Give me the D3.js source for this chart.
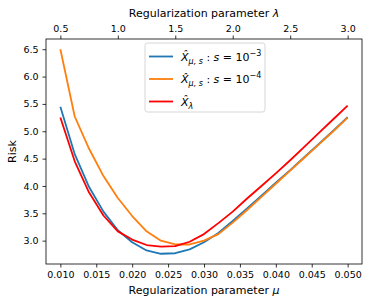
<!DOCTYPE html>
<html>
<head>
<meta charset="utf-8">
<script src="https://cdn.jsdelivr.net/npm/d3@7"></script>
<style>
  body { margin: 0; background: #fff; }
  text { font-family: "DejaVu Sans", sans-serif; fill: #000; }
</style>
</head>
<body>
<div id="chart"></div>
<script>
// Regularization parameter mu (bottom axis)
const mu = [0.010, 0.012, 0.014, 0.016, 0.018, 0.020, 0.022, 0.024, 0.026, 0.028, 0.030,
            0.032, 0.034, 0.036, 0.038, 0.040, 0.042, 0.044, 0.046, 0.048, 0.050];

// Risk for each estimator
const riskS3 = [5.45, 4.58, 3.98, 3.53, 3.19, 2.97, 2.82, 2.76, 2.77, 2.84, 2.97,
                3.14, 3.36, 3.59, 3.82, 4.06, 4.29, 4.53, 4.77, 5.01, 5.26];
const riskS4 = [6.50, 5.27, 4.68, 4.18, 3.78, 3.45, 3.17, 3.00, 2.93, 2.93, 3.00,
                3.12, 3.33, 3.56, 3.80, 4.04, 4.28, 4.52, 4.76, 5.00, 5.25];
const riskLambda = [5.25, 4.45, 3.88, 3.46, 3.17, 3.02, 2.92, 2.89, 2.90, 2.98, 3.12,
                    3.32, 3.53, 3.77, 4.00, 4.23, 4.47, 4.72, 4.97, 5.22, 5.47];

// Tick values
const muTicks = [0.010, 0.015, 0.020, 0.025, 0.030, 0.035, 0.040, 0.045, 0.050];
const lambdaTicks = [0.5, 1.0, 1.5, 2.0, 2.5, 3.0];
const riskTicks = [3.0, 3.5, 4.0, 4.5, 5.0, 5.5, 6.0, 6.5];

// Series table for drawing (blue first, red on top)
const series = [
    { key: "s3", values: riskS3, color: "#1f77b4", sup: "\u22123" },
    { key: "s4", values: riskS4, color: "#ff7f0e", sup: "\u22124" },
    { key: "lambda", values: riskLambda, color: "#ff0000" }
];

const width = 374, height = 306;
const margin = { top: 39, right: 12, bottom: 42, left: 46 };

const svg = d3.select("#chart").append("svg")
    .attr("width", width)
    .attr("height", height);

// Scales with matplotlib-like 5% padding
const muExt = d3.extent(mu);
const muPad = (muExt[1] - muExt[0]) * 0.05;
const x = d3.scaleLinear()
    .domain([muExt[0] - muPad, muExt[1] + muPad])
    .range([margin.left, width - margin.right]);

const allRisk = riskS3.concat(riskS4, riskLambda);
const rExt = d3.extent(allRisk);
const rPad = (rExt[1] - rExt[0]) * 0.05;
const y = d3.scaleLinear()
    .domain([rExt[0] - rPad, rExt[1] + rPad])
    .range([height - margin.bottom, margin.top]);

// lambda axis shares the pixel range: 0.5 <-> 0.010, 3.0 <-> 0.050
const lambdaOf = d3.scaleLinear().domain([0.010, 0.050]).range([0.5, 3.0]);
const xTop = d3.scaleLinear()
    .domain(x.domain().map(lambdaOf))
    .range(x.range());

// Axes
const styleAxis = g => {
    g.select(".domain").remove();
    g.selectAll(".tick line").attr("stroke", "#000").attr("stroke-width", 0.8);
    g.selectAll(".tick text").style("font-size", "9.5px").style("font-family", "DejaVu Sans");
};

svg.append("g")
    .attr("transform", `translate(0,${height - margin.bottom})`)
    .call(d3.axisBottom(x).tickValues(muTicks).tickFormat(d3.format(".3f")).tickSizeOuter(0).tickSize(3.5).tickPadding(4))
    .call(styleAxis);

svg.append("g")
    .attr("transform", `translate(0,${margin.top})`)
    .call(d3.axisTop(xTop).tickValues(lambdaTicks).tickFormat(d3.format(".1f")).tickSizeOuter(0).tickSize(3.5).tickPadding(4))
    .call(styleAxis);

svg.append("g")
    .attr("transform", `translate(${margin.left},0)`)
    .call(d3.axisLeft(y).tickValues(riskTicks).tickFormat(d3.format(".1f")).tickSizeOuter(0).tickSize(3.5).tickPadding(4))
    .call(styleAxis);

// Lines
const line = d3.line()
    .x((d, i) => x(mu[i]))
    .y(d => y(d));

svg.append("g")
    .selectAll("path")
    .data(series)
    .join("path")
    .attr("d", d => line(d.values))
    .attr("fill", "none")
    .attr("stroke", d => d.color)
    .attr("stroke-width", 1.8)
    .attr("stroke-linejoin", "round");

// Frame
svg.append("rect")
    .attr("x", margin.left)
    .attr("y", margin.top)
    .attr("width", width - margin.left - margin.right)
    .attr("height", height - margin.top - margin.bottom)
    .attr("fill", "none")
    .attr("stroke", "#000")
    .attr("stroke-width", 0.8);

// Axis labels
svg.append("text")
    .attr("x", (margin.left + width - margin.right) / 2)
    .attr("y", 294)
    .attr("text-anchor", "middle")
    .style("font-size", "11px")
    .text("Regularization parameter ")
    .append("tspan").style("font-style", "italic").text("\u03bc");

svg.append("text")
    .attr("x", (margin.left + width - margin.right) / 2)
    .attr("y", 17)
    .attr("text-anchor", "middle")
    .style("font-size", "11px")
    .text("Regularization parameter ")
    .append("tspan").style("font-style", "italic").text("\u03bb");

svg.append("text")
    .attr("transform", `translate(16,${(margin.top + height - margin.bottom) / 2}) rotate(-90)`)
    .attr("text-anchor", "middle")
    .style("font-size", "11px")
    .text("Risk");

// Legend
const legend = svg.append("g").attr("transform", "translate(145,43)");
legend.append("rect")
    .attr("width", 120)
    .attr("height", 69)
    .attr("rx", 2.5)
    .attr("fill", "#fff")
    .attr("fill-opacity", 0.8)
    .attr("stroke", "#cccccc")
    .attr("stroke-width", 0.8);

series.forEach((s, i) => {
    const row = legend.append("g").attr("transform", `translate(0,${13.5 + i * 22.5})`);
    row.append("line")
        .attr("x1", 4).attr("x2", 28)
        .attr("stroke", s.color)
        .attr("stroke-width", 1.8);
    const t = row.append("text")
        .attr("x", 36)
        .attr("y", 4)
        .style("font-size", "11px");
    t.append("tspan").style("font-style", "italic").text("X\u0302");
    if (s.sup) {
        t.append("tspan").attr("dy", 3).style("font-size", "8px").style("font-style", "italic").text("\u03bc, s");
        t.append("tspan").attr("dy", -3).text(" : ");
        t.append("tspan").style("font-style", "italic").text("s");
        t.append("tspan").text(" = 10");
        t.append("tspan").attr("dy", -5).style("font-size", "8px").text(s.sup);
    } else {
        t.append("tspan").attr("dy", 3).style("font-size", "8px").style("font-style", "italic").text("\u03bb");
    }
});
</script>
</body>
</html>
